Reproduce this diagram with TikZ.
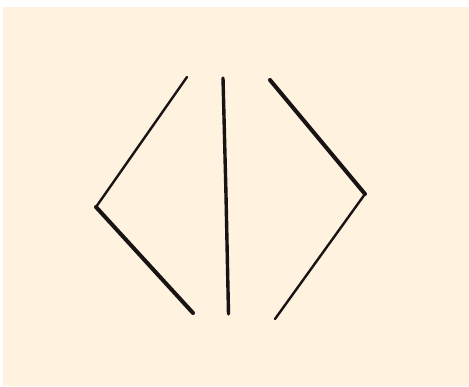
\documentclass[tikz,border=0pt]{standalone}
\definecolor{cream}{RGB}{255,242,222}
\definecolor{ink}{RGB}{24,20,20}
\begin{document}
\begin{tikzpicture}[x=1pt,y=-1pt,
  thinstroke/.style={draw=ink,line width=2.4pt,line cap=round,line join=round},
  thickstroke/.style={draw=ink,line width=4pt,line cap=round,line join=round},
  midstroke/.style={draw=ink,line width=3.4pt,line cap=round,line join=round}]
\useasboundingbox (0,0) rectangle (469,387);
\fill[white] (0,0) rectangle (469,387);
\fill[cream] (3,7) rectangle (469,386);
% left bracket
\coordinate (lt) at (187,77);
\coordinate (lv) at (96,207);
\coordinate (lb) at (193,313);
\draw[thinstroke] (lt) -- (lv);
\draw[thickstroke] (lv) -- (lb);
% middle bar
\coordinate (mt) at (223,78);
\coordinate (mm) at (226,195);
\coordinate (mb) at (228.5,314);
\draw[midstroke] (mt) -- (mm) -- (mb);
% right bracket
\coordinate (rt) at (270,80);
\coordinate (rv) at (365,194);
\coordinate (rb) at (275,319);
\draw[thickstroke] (rt) -- (rv);
\draw[thinstroke] (rv) -- (rb);
\end{tikzpicture}
\end{document}
